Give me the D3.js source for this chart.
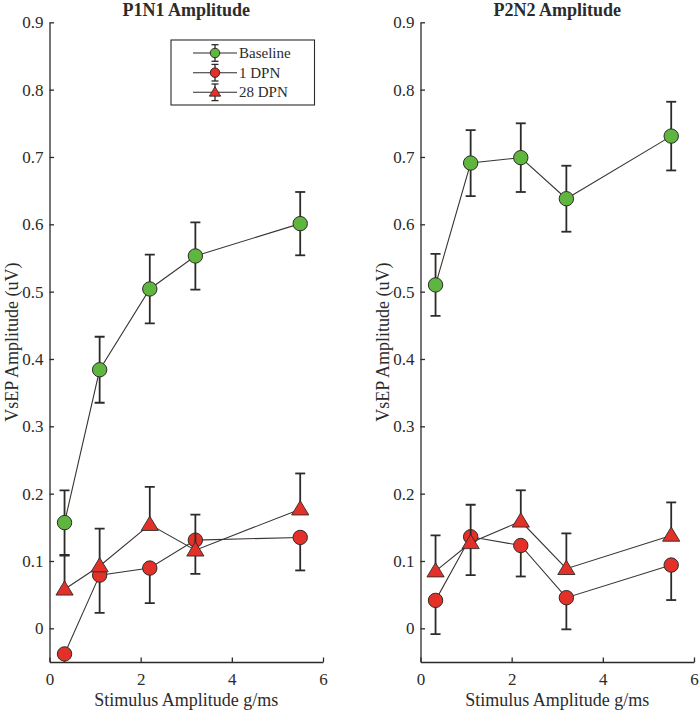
<!DOCTYPE html>
<html>
<head>
<meta charset="utf-8">
<script src="https://cdn.jsdelivr.net/npm/d3@7"></script>
<style>
  html, body { margin: 0; padding: 0; background: #fff; }
  svg { display: block; }
  text { font-family: "Liberation Serif", "Times New Roman", serif; fill: #2b2b2b; }
</style>
</head>
<body>
<svg id="chart" width="700" height="712"></svg>
<script>
// ---------------- DATA ----------------
const stimulus = [0.33, 1.1, 2.2, 3.2, 5.5];
const seriesNames = ["Baseline", "1 DPN", "28 DPN"];
const xTicks = [0, 2, 4, 6];
const yTicks = [0, 0.1, 0.2, 0.3, 0.4, 0.5, 0.6, 0.7, 0.8, 0.9];
const panelTitles = ["P1N1 Amplitude", "P2N2 Amplitude"];

// P1N1
const p1n1Baseline = [0.157, 0.384, 0.504, 0.553, 0.601];
const p1n1BaselineErr = [0.048, 0.049, 0.051, 0.050, 0.047];
const p1n1Dpn1 = [-0.038, 0.079, 0.0895, 0.131, 0.135];
const p1n1Dpn1ErrLow = [0.050, 0.056, 0.052, 0.050, 0.049];
const p1n1Dpn28 = [0.058, 0.0925, 0.154, 0.116, 0.177];
const p1n1Dpn28ErrHigh = [0.050, 0.0555, 0.056, 0.053, 0.053];

// P2N2
const p2n2Baseline = [0.510, 0.691, 0.699, 0.638, 0.731];
const p2n2BaselineErr = [0.046, 0.049, 0.051, 0.049, 0.051];
const p2n2Dpn1 = [0.0415, 0.136, 0.123, 0.0455, 0.094];
const p2n2Dpn1ErrLow = [0.050, 0.057, 0.046, 0.047, 0.052];
const p2n2Dpn28 = [0.085, 0.127, 0.159, 0.0885, 0.138];
const p2n2Dpn28ErrHigh = [0.053, 0.0565, 0.046, 0.0525, 0.049];

// ---------------- STYLE ----------------
const GREEN = "#5fb63e";
const RED = "#e3312a";
const INK = "#2e2a28";

const panels = [
  {
    title: panelTitles[0], x0: 49.5,
    series: [
      { name: seriesNames[0], y: p1n1Baseline, lo: p1n1BaselineErr, hi: p1n1BaselineErr, color: GREEN, shape: "circle" },
      { name: seriesNames[1], y: p1n1Dpn1, lo: p1n1Dpn1ErrLow, hi: null, color: RED, shape: "circle" },
      { name: seriesNames[2], y: p1n1Dpn28, lo: null, hi: p1n1Dpn28ErrHigh, color: RED, shape: "triangle" }
    ],
    legend: true
  },
  {
    title: panelTitles[1], x0: 420.5,
    series: [
      { name: seriesNames[0], y: p2n2Baseline, lo: p2n2BaselineErr, hi: p2n2BaselineErr, color: GREEN, shape: "circle" },
      { name: seriesNames[1], y: p2n2Dpn1, lo: p2n2Dpn1ErrLow, hi: null, color: RED, shape: "circle" },
      { name: seriesNames[2], y: p2n2Dpn28, lo: null, hi: p2n2Dpn28ErrHigh, color: RED, shape: "triangle" }
    ],
    legend: false
  }
];

const svg = d3.select("#chart");
const W = 273.5, yTop = 22.3, yBot = 662;

function drawMarker(g, shape, cx, cy, color, scale) {
  if (shape === "circle") {
    g.append("circle").attr("cx", cx).attr("cy", cy).attr("r", 7.2 * scale)
      .attr("fill", color).attr("stroke", INK).attr("stroke-width", 1);
  } else {
    const w = 8.6 * scale, hUp = 8.4 * scale, hDn = 5.8 * scale;
    g.append("path")
      .attr("d", `M${cx},${cy - hUp}L${cx + w},${cy + hDn}L${cx - w},${cy + hDn}Z`)
      .attr("fill", color).attr("stroke", INK).attr("stroke-width", 0.9).attr("stroke-linejoin", "miter");
  }
}

panels.forEach((p, pi) => {
  const x = d3.scaleLinear().domain([0, 6]).range([p.x0, p.x0 + W]);
  const y = d3.scaleLinear().domain([-0.05, 0.9]).range([yBot, yTop]);
  const g = svg.append("g");

  const clipId = "clip" + pi;
  svg.append("clipPath").attr("id", clipId).append("rect")
    .attr("x", p.x0).attr("y", 0).attr("width", W + 20).attr("height", yBot);

  // axes
  const yAxis = d3.axisLeft(y).tickValues(yTicks).tickSizeInner(-4.5).tickSizeOuter(0).tickPadding(6)
    .tickFormat(d => d === 0 ? "0" : d3.format(".1f")(d));
  const ya = g.append("g").attr("transform", `translate(${p.x0},0)`).call(yAxis);
  const xAxis = d3.axisBottom(x).tickValues(xTicks).tickSizeInner(-4.5).tickSizeOuter(0).tickPadding(11)
    .tickFormat(d3.format("d"));
  const xa = g.append("g").attr("transform", `translate(0,${yBot})`).call(xAxis);
  [ya, xa].forEach(a => {
    a.selectAll("path.domain").attr("stroke", INK).attr("stroke-width", 1.3);
    a.selectAll(".tick line").attr("stroke", INK).attr("stroke-width", 1.3);
    a.selectAll(".tick text").style("font-family", "'Liberation Serif', 'Times New Roman', serif")
      .style("font-size", "17px").attr("fill", "#2b2b2b");
  });

  // title
  g.append("text").attr("x", p.x0 + W / 2).attr("y", 15.5).attr("text-anchor", "middle")
    .style("font-size", "18px").style("font-weight", "bold").text(p.title);
  // axis labels
  g.append("text").attr("x", p.x0 + W / 2).attr("y", 706).attr("text-anchor", "middle")
    .style("font-size", "18px").text("Stimulus Amplitude g/ms");
  g.append("text").attr("transform", `translate(${p.x0 - 32},${(yTop + yBot) / 2}) rotate(-90)`)
    .attr("text-anchor", "middle").style("font-size", "18px").text("VsEP Amplitude (uV)");

  // series
  const plot = g.append("g").attr("clip-path", `url(#${clipId})`);
  const line = d3.line().x((d, i) => x(stimulus[i])).y(d => y(d));
  p.series.forEach(s => {
    const sg = plot.append("g");
    // error bars
    s.y.forEach((v, i) => {
      const cx = x(stimulus[i]);
      const top = s.hi ? v + s.hi[i] : v;
      const bot = s.lo ? v - s.lo[i] : v;
      sg.append("line").attr("x1", cx).attr("x2", cx).attr("y1", y(top)).attr("y2", y(bot))
        .attr("stroke", INK).attr("stroke-width", 1.8);
      if (s.hi) sg.append("line").attr("x1", cx - 5).attr("x2", cx + 5).attr("y1", y(top)).attr("y2", y(top))
        .attr("stroke", INK).attr("stroke-width", 1.8);
      if (s.lo) sg.append("line").attr("x1", cx - 5).attr("x2", cx + 5).attr("y1", y(bot)).attr("y2", y(bot))
        .attr("stroke", INK).attr("stroke-width", 1.8);
    });
    sg.append("path").datum(s.y).attr("d", line).attr("fill", "none")
      .attr("stroke", "#3a3532").attr("stroke-width", 1.1);
    s.y.forEach((v, i) => drawMarker(sg, s.shape, x(stimulus[i]), y(v), s.color, 1));
  });

  // legend
  if (p.legend) {
    const lg = g.append("g");
    lg.append("rect").attr("x", 171).attr("y", 40).attr("width", 143.5).attr("height", 65)
      .attr("fill", "#fff").attr("stroke", INK).attr("stroke-width", 1.1);
    const rows = [53, 72.7, 92.3];
    p.series.forEach((s, i) => {
      const cy = rows[i], cx = 215;
      lg.append("line").attr("x1", 193).attr("x2", 237).attr("y1", cy).attr("y2", cy)
        .attr("stroke", INK).attr("stroke-width", 1.1);
      lg.append("line").attr("x1", cx).attr("x2", cx).attr("y1", cy - 8.3).attr("y2", cy + 8.3)
        .attr("stroke", INK).attr("stroke-width", 1.3);
      [cy - 8.3, cy + 8.3].forEach(yy => lg.append("line").attr("x1", cx - 3.5).attr("x2", cx + 3.5)
        .attr("y1", yy).attr("y2", yy).attr("stroke", INK).attr("stroke-width", 1.3));
      drawMarker(lg, s.shape, cx, cy, s.color, 0.66);
      lg.append("text").attr("x", 239).attr("y", cy + 5).style("font-size", "15px").text(s.name);
    });
  }
});
</script>
</body>
</html>
